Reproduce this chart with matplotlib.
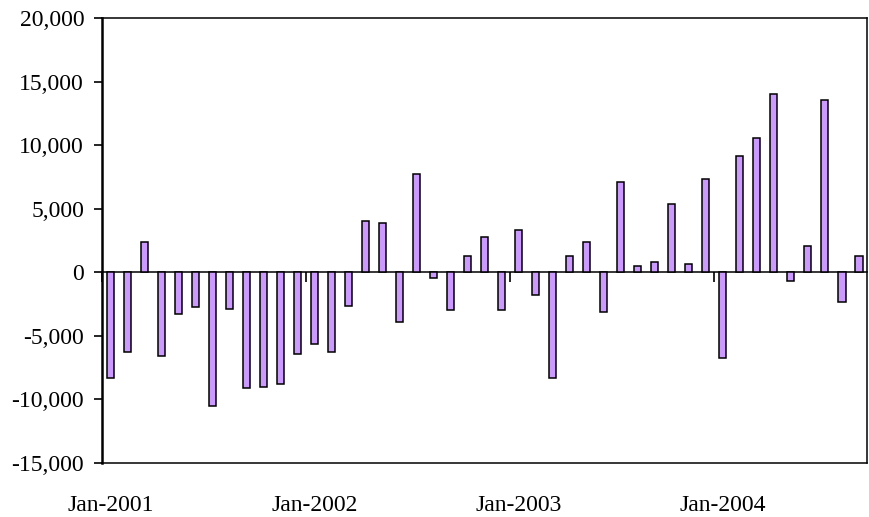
import numpy as np
import pandas as pd
import matplotlib
matplotlib.use('Agg')
import matplotlib.pyplot as plt
from matplotlib.ticker import FuncFormatter

# Monthly change, Jan-2001 .. Sep-2004
months = pd.date_range('2001-01-01', periods=45, freq='MS')
values = [
    -8300, -6300, 2400, -6600, -3300, -2700, -10550, -2850, -9100, -9000, -8800, -6450,
    -5650, -6300, -2650, 4000, 3850, -3900, 7750, -450, -3000, 1300, 2750, -3000,
    3350, -1750, -8350, 1300, 2400, -3150, 7100, 500, 800, 5350, 650, 7300,
    -6750, 9150, 10550, 14000, -650, 2050, 13550, -2350, 1250,
]
year_starts = [i for i, m in enumerate(months) if m.month == 1]
year_labels = [months[i].strftime('%b-%Y') for i in year_starts]

plt.rcParams['font.family'] = ['Liberation Serif', 'DejaVu Serif']

fig = plt.figure(figsize=(8.69, 5.17), dpi=100, facecolor='white')
ax = fig.add_axes([0.1176, 0.1044, 0.8804, 0.8608])

x = np.arange(len(values))
ax.bar(x, values, width=0.44, color='#CC99FF', edgecolor='black', linewidth=1.1, zorder=3)

ymin, ymax = -15000, 20000
ax.set_ylim(ymin, ymax)
ax.set_xlim(-0.5, len(values) - 0.5)
ax.set_yticks(np.arange(ymin, ymax + 1, 5000))
ax.yaxis.set_major_formatter(FuncFormatter(lambda v, p: f'{int(v):,}'))
ax.tick_params(axis='y', direction='out', length=6, width=1.2, pad=7, labelsize=17)

# year labels sit at the bottom of the plot area
ax.set_xticks(year_starts)
ax.set_xticklabels(year_labels)
ax.tick_params(axis='x', length=0, pad=23, labelsize=17)

for side in ['top', 'right', 'bottom']:
    ax.spines[side].set_linewidth(1.1)
ax.spines['left'].set_linewidth(1.8)

# category axis crossing at zero, ticks between years
zero_frac = (0 - ymin) / (ymax - ymin)
cat = ax.secondary_xaxis(zero_frac)
cat.spines['bottom'].set_linewidth(1.1)
cat.set_xticks([i - 0.5 for i in year_starts])
cat.set_xticklabels([])
cat.tick_params(axis='x', direction='out', length=7, width=1.2)

fig.savefig('out.png', dpi=100)
